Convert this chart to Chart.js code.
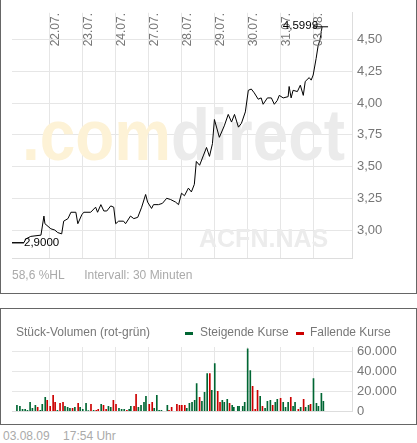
<!DOCTYPE html>
<html><head><meta charset="utf-8">
<script src="https://cdn.jsdelivr.net/npm/chart.js@4"></script>
<style>
body{margin:0;background:#fff;width:417px;height:443px;position:relative;font-family:"Liberation Sans",Arial,sans-serif;overflow:hidden}
.box{position:absolute;border:1px solid #666;box-sizing:border-box}
canvas{position:absolute}
.t{position:absolute;color:#aaa;font-size:11px;white-space:pre}
</style></head><body>
<div class="box" style="left:0;top:-2px;width:417px;height:296px"></div>
<div class="box" style="left:0;top:308px;width:417px;height:117px"></div>
<div style="position:absolute;left:0;top:0;width:417px;height:293px"><canvas id="c1"></canvas></div>
<div style="position:absolute;left:0;top:309px;width:417px;height:115px"><canvas id="c2"></canvas></div>
<div class="t" style="left:12px;top:268px;font-size:12px">58,6 %HL      Intervall: 30 Minuten</div>
<div class="t" style="left:3px;top:429px;font-size:12px">03.08.09    17:54 Uhr</div>
<script>
const dayLabels=["22.07.","23.07.","24.07.","27.07.","28.07.","29.07.","30.07.","31.07.","03.08."];
const priceTimes=[-1.15,-0.79,-0.73,-0.58,-0.27,-0.18,-0.15,0.03,0.15,0.24,0.36,0.42,0.55,0.64,0.79,0.85,0.97,1.03,1.24,1.39,1.45,1.55,1.64,1.73,1.85,1.94,2.00,2.09,2.24,2.30,2.45,2.55,2.67,2.79,2.91,2.97,3.09,3.15,3.30,3.42,3.55,3.67,3.82,3.91,4.00,4.09,4.21,4.30,4.39,4.45,4.55,4.67,4.76,4.85,4.94,5.00,5.15,5.30,5.42,5.52,5.61,5.73,5.82,5.94,6.03,6.12,6.21,6.33,6.42,6.48,6.61,6.73,6.82,6.91,6.97,7.09,7.24,7.27,7.33,7.39,7.52,7.61,7.70,7.76,7.88,7.94,8.00,8.09,8.15,8.21,8.27];
const prices=[2.90,2.90,2.93,2.95,2.96,3.11,3.05,3.01,3.00,2.98,2.97,3.07,3.09,3.14,3.14,3.05,3.12,3.14,3.14,3.18,3.14,3.20,3.15,3.15,3.19,3.18,3.05,3.07,3.07,3.05,3.11,3.09,3.10,3.18,3.28,3.22,3.17,3.20,3.20,3.21,3.25,3.24,3.22,3.20,3.29,3.27,3.33,3.30,3.36,3.54,3.51,3.59,3.65,3.58,3.68,3.87,3.73,3.82,3.91,3.85,3.91,3.81,3.84,3.93,4.10,4.11,4.08,4.03,4.04,3.99,4.04,4.04,3.99,4.02,4.06,4.04,4.05,4.13,4.04,4.10,4.09,4.14,4.06,4.17,4.20,4.18,4.22,4.35,4.45,4.50,4.60];
const firstPrice=2.90, lastPrice=4.5999;
const priceTicks=[3.00,3.25,3.50,3.75,4.00,4.25,4.50];
const volTimes=[-1.00,-0.91,-0.83,-0.75,-0.68,-0.60,-0.53,-0.44,-0.37,-0.29,-0.23,-0.14,-0.08,0.01,0.10,0.16,0.23,0.31,0.40,0.46,0.54,0.61,0.69,0.76,0.86,0.92,1.00,1.10,1.17,1.25,1.33,1.41,1.47,1.56,1.63,1.71,1.78,1.85,1.93,2.01,2.10,2.18,2.26,2.34,2.41,2.46,2.56,2.62,2.69,2.77,2.86,2.92,3.02,3.11,3.17,3.25,3.32,3.39,3.57,3.62,3.70,3.86,3.94,4.01,4.10,4.16,4.24,4.32,4.40,4.46,4.55,4.62,4.70,4.78,4.86,4.92,5.01,5.10,5.17,5.24,5.30,5.39,5.46,5.54,5.59,5.71,5.75,5.86,5.92,6.01,6.09,6.16,6.24,6.31,6.39,6.46,6.54,6.61,6.70,6.77,6.85,6.91,7.01,7.09,7.16,7.24,7.32,7.39,7.45,7.55,7.62,7.71,7.77,7.86,7.92,8.01,8.10,8.16,8.25,8.31];
const volumes=[6000,5000,2000,2000,1000,9000,3000,6000,4000,1000,7000,14000,11000,5000,16000,9000,1000,8000,9000,5000,4000,3000,3000,4000,8000,4000,2000,8000,500,7000,1000,1000,2000,7000,6000,2000,5000,4000,11000,7000,3000,2000,2000,1000,2000,5000,5000,17000,4000,6000,9000,15000,7000,9000,3000,16000,1000,1000,6000,1000,4000,7000,6000,6000,6000,3000,8000,9000,11000,28000,14000,10000,19000,38000,38000,21000,48000,20000,9000,11000,9000,12000,8000,6000,4000,5000,5000,5000,9000,63000,41000,25000,2000,21000,15000,5000,3000,10000,11000,6000,9000,12000,13000,9000,4000,9000,14000,5000,9000,2000,4000,12000,4000,6000,7000,33000,8000,5000,18000,10000];
const volUp=[1,1,1,1,1,1,1,1,0,1,1,1,0,0,0,0,1,0,0,1,1,1,0,1,0,1,1,1,1,0,1,0,0,1,0,0,1,1,0,0,1,1,1,0,1,1,0,0,1,1,1,1,0,0,1,1,1,1,1,0,0,0,0,0,0,1,1,1,1,1,0,1,1,1,0,1,1,0,0,1,1,1,0,1,1,1,1,1,1,1,1,0,0,0,1,0,1,1,1,0,1,1,0,1,1,1,0,1,1,0,1,0,1,1,0,1,1,1,1,1];
const volTicks=[0,10000,20000,30000,40000,50000,60000];
const XMIN=-1.15, XMAX=9.18;
const FONT="Liberation Sans";
const fmtDE=v=>v.toLocaleString('de-DE');

const bg={id:'bg',beforeDatasetsDraw(ch){
  const c=ch.ctx;c.save();
  c.font="bold 72px "+FONT;c.textBaseline='alphabetic';
  const w1=c.measureText('.com').width,w2=c.measureText('direct').width;
  const k=323/(w1+w2);
  c.translate(22,160);c.scale(k,1);
  c.fillStyle='#fdf2d6';c.fillText('.com',0,0);
  c.fillStyle='#ebebeb';c.fillText('direct',w1,0);
  c.restore();c.save();
  c.font="bold 25px "+FONT;c.fillStyle='#ececec';c.fillText('ACFN.NAS',199,247);
  c.restore();}};
const marks={id:'marks',afterDatasetsDraw(ch){
  const c=ch.ctx,x=ch.scales.x,y=ch.scales.y;c.save();
  c.fillStyle='#777';c.font="12px "+FONT;
  dayLabels.forEach((l,i)=>{c.save();c.translate(x.getPixelForValue(i)+6,13);c.rotate(-Math.PI/2);c.textAlign='right';c.textBaseline='middle';c.fillText(l,0,0);c.restore();});
  c.strokeStyle='#000';c.lineWidth=1;c.fillStyle='#000';c.font="11.5px "+FONT;
  const y0=y.getPixelForValue(firstPrice),x0=x.getPixelForValue(priceTimes[0]);
  c.beginPath();c.moveTo(x0,y0);c.lineTo(x0+12,y0);c.stroke();
  c.textBaseline='middle';c.textAlign='left';c.fillText(firstPrice.toFixed(4).replace('.',','),x0+12,y0);
  const y1=y.getPixelForValue(lastPrice),x1=x.getPixelForValue(priceTimes[priceTimes.length-1]);
  c.beginPath();c.moveTo(x1-9,y1);c.lineTo(x1+6,y1);c.stroke();
  c.textAlign='right';c.fillText(lastPrice.toFixed(4).replace('.',','),x1-4,y1-1);
  c.restore();}};

new Chart(document.getElementById('c1'),{type:'line',
 data:{datasets:[{data:priceTimes.map((t,i)=>({x:t,y:prices[i]})),borderColor:'#000',borderWidth:1,pointRadius:0,tension:0}]},
 options:{responsive:true,maintainAspectRatio:false,animation:false,layout:{padding:{left:12,top:10,bottom:35,right:0}},
  plugins:{legend:{display:false},tooltip:{enabled:false}},
  scales:{x:{type:'linear',min:XMIN,max:XMAX,afterBuildTicks:s=>{s.ticks=dayLabels.map((_,i)=>({value:i}));},
     ticks:{display:false},grid:{color:'#e6e6e6',drawTicks:false},border:{color:'#ddd'},afterFit:s=>{s.height=0;}},
   y:{position:'right',min:2.78,max:4.71,afterBuildTicks:s=>{s.ticks=priceTicks.map(v=>({value:v}));},
     ticks:{color:'#777',font:{family:FONT,size:13},padding:5,callback:v=>v.toFixed(2).replace('.',',')},
     grid:{color:'#e6e6e6',drawTicks:false},border:{color:'#ddd'},afterFit:s=>{s.width=65;}}}},
 plugins:[bg,marks]});

const leg={id:'leg',afterDraw(ch){const c=ch.ctx;c.save();c.font="12px "+FONT;c.fillStyle='#777';c.textBaseline='middle';
  c.fillText('Stück-Volumen (rot-grün)',16,24);
  c.fillStyle='#006633';c.fillRect(185,23,8,3);c.fillStyle='#777';c.fillText('Steigende Kurse',200,24);
  c.fillStyle='#cc0000';c.fillRect(296,23,8,3);c.fillStyle='#777';c.fillText('Fallende Kurse',310,24);c.restore();}};
new Chart(document.getElementById('c2'),{type:'bar',
 data:{datasets:[{data:volTimes.map((t,i)=>({x:t,y:volumes[i]})),backgroundColor:volUp.map(u=>u?'#006633':'#cc0000'),barThickness:1}]},
 options:{responsive:true,maintainAspectRatio:false,animation:false,layout:{padding:{left:12,top:38,bottom:12,right:0}},
  plugins:{legend:{display:false},tooltip:{enabled:false}},
  scales:{x:{type:'linear',min:XMIN,max:XMAX,offset:false,afterBuildTicks:s=>{s.ticks=dayLabels.map((_,i)=>({value:i}));},
     ticks:{display:false},grid:{color:'#e6e6e6',drawTicks:false,offset:false},border:{color:'#ddd'},afterFit:s=>{s.height=0;}},
   y:{position:'right',min:0,max:64800,afterBuildTicks:s=>{s.ticks=volTicks.map(v=>({value:v}));},
     ticks:{color:'#777',font:{family:FONT,size:13},padding:5,callback:v=>v%20000===0?fmtDE(v):''},
     grid:{color:'#e6e6e6',drawTicks:false},border:{color:'#ddd'},afterFit:s=>{s.width=65;}}}},
 plugins:[leg]});
</script></body></html>
